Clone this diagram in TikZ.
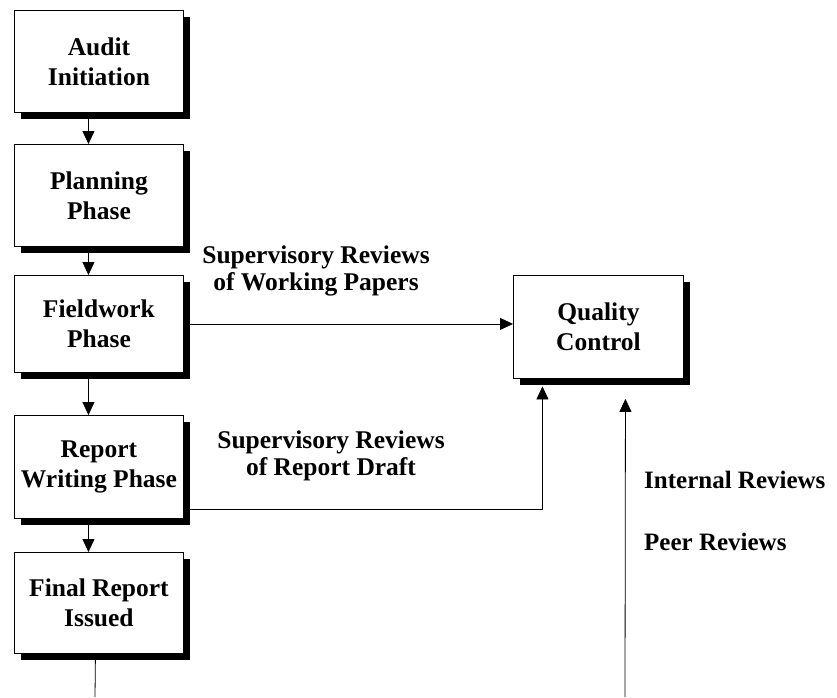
\documentclass[tikz,border=0pt]{standalone}
\usepackage{fontspec}
\setmainfont{Liberation Serif}
\usetikzlibrary{arrows.meta,shadows,calc}
\begin{document}
\begin{tikzpicture}[x=1pt,y=-1pt,
  box/.style={draw=black, line width=0.9pt, fill=white, anchor=north west,
    minimum width=169pt, align=center, inner sep=0pt,
    font=\fontsize{25.5}{30}\selectfont\bfseries,
    drop shadow={shadow xshift=7pt, shadow yshift=-7pt, opacity=1, fill=black}},
  lab/.style={align=center, inner sep=0pt, font=\fontsize{25.5}{27}\selectfont\bfseries},
  side/.style={inner sep=0pt, anchor=base west, font=\fontsize{25}{27}\selectfont\bfseries},
  arr/.style={line width=0.8pt, -{Triangle[width=12pt,length=13pt]}},
  ln/.style={line width=0.8pt}]
\useasboundingbox (0,0) rectangle (837,697);
\node[box, minimum height=102pt] (a) at (14,10) {Audit\\Initiation};
\node[box, minimum height=102pt] (b) at (14,144) {Planning\\Phase};
\node[box, minimum height=97pt]  (c) at (14,275) {Fieldwork\\Phase};
\node[box, minimum height=103pt] (d) at (14,415) {Report\\Writing Phase};
\node[box, minimum height=101pt] (e) at (14,552) {Final Report\\Issued};
\node[box, minimum width=170pt, minimum height=103pt] (q) at (513,275) {Quality\\Control};

\node[lab] (l1) at (316,270.5) {Supervisory Reviews\\of Working Papers};
\node[lab] (l2) at (331,455.5) {Supervisory Reviews\\of Report Draft};
\node[side] (l3) at (644,488) {Internal Reviews};
\node[side] (l4) at (644,550) {Peer Reviews};

\draw[arr] ([xshift=-10.5pt]a.south) -- ([xshift=-10.5pt]b.north);
\draw[arr] ([xshift=-10.5pt]b.south) -- ([xshift=-10.5pt]c.north);
\draw[arr] ([xshift=-10.5pt]c.south) -- ([xshift=-10.5pt]d.north);
\draw[arr] ([xshift=-10.5pt]d.south) -- ([xshift=-10.5pt]e.north);

\coordinate (bot1) at (95,697);
\coordinate (bot2) at (625,697);
\draw[ln] ([xshift=-3.5pt]e.south) -- (bot1);

\draw[arr] (c.east) -- (c.east -| q.west);
\coordinate (rw) at ([yshift=10pt]d.south east);
\coordinate (qa) at ([xshift=-56pt,yshift=-7.5pt]q.south);
\draw[arr] (rw) -| (qa);
\coordinate (qb) at ([xshift=27pt,yshift=-20pt]q.south);
\draw[arr] (bot2) -- (qb);
\end{tikzpicture}
\end{document}
